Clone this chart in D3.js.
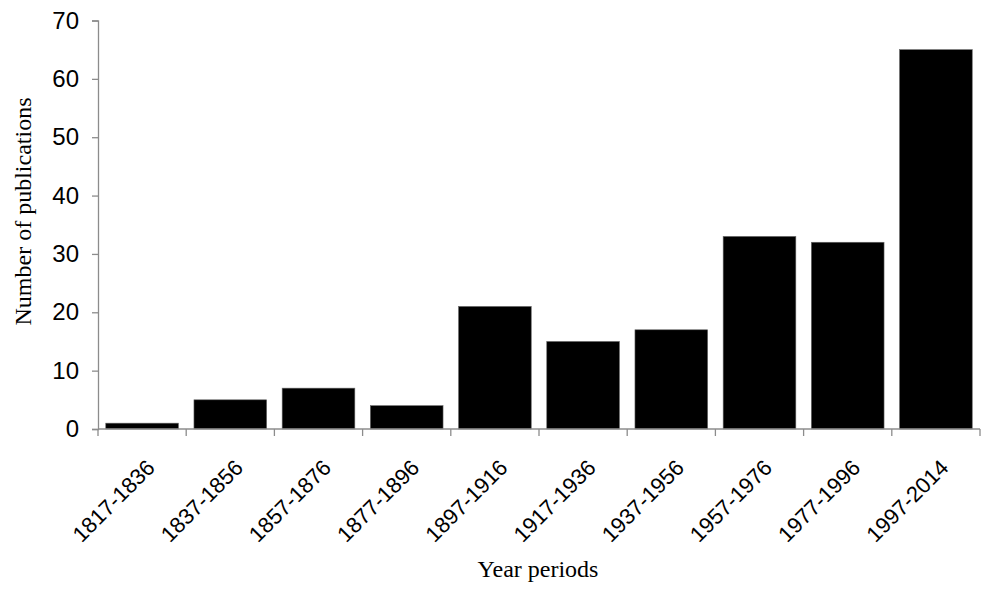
<!DOCTYPE html>
<html><head><meta charset="utf-8">
<script src="https://cdn.jsdelivr.net/npm/d3@7"></script>
<style>body{margin:0;background:#fff}</style>
</head><body>
<svg id="c" width="984" height="589"></svg>
<script>
const categories = ["1817-1836","1837-1856","1857-1876","1877-1896","1897-1916","1917-1936","1937-1956","1957-1976","1977-1996","1997-2014"];
const values = [1,5,7,4,21,15,17,33,32,65];
const yTicks = [0,10,20,30,40,50,60,70];

(function(){
const svg = d3.select("#c");
const mLeft = 98, mRight = 980, mTop = 20.5, mBottom = 429;
const x = d3.scaleBand().domain(categories).range([mLeft,mRight]).paddingInner(0.176).paddingOuter(0.088);
const y = d3.scaleLinear().domain([0,70]).range([mBottom,mTop]);
const axisColor = "#8c8c8c";

svg.selectAll("rect.bar").data(values).join("rect")
  .attr("x",(d,i)=>x(categories[i]))
  .attr("y",d=>y(d))
  .attr("width",x.bandwidth())
  .attr("height",d=>y(0)-y(d))
  .attr("fill","#000").attr("stroke","#666").attr("stroke-width",0.6);

const yg = svg.append("g").attr("transform",`translate(${mLeft},0)`)
  .call(d3.axisLeft(y).tickValues(yTicks).tickSize(6).tickPadding(13));
yg.select(".domain").attr("stroke",axisColor).attr("stroke-width",1.3);
yg.selectAll(".tick line").attr("stroke",axisColor).attr("stroke-width",1.3);
yg.selectAll("text").attr("font-family","Liberation Sans, Arial").attr("font-size",24).attr("fill","#000");

const bx = d3.scaleLinear().domain([0,categories.length]).range([mLeft,mRight]);
svg.append("line").attr("x1",mLeft).attr("x2",mRight).attr("y1",mBottom).attr("y2",mBottom)
  .attr("stroke",axisColor).attr("stroke-width",1.3);
svg.selectAll("line.xt").data(d3.range(categories.length+1)).join("line")
  .attr("x1",d=>bx(d)).attr("x2",d=>bx(d)).attr("y1",mBottom).attr("y2",mBottom+7)
  .attr("stroke",axisColor).attr("stroke-width",1.3);
svg.selectAll("text.xl").data(categories).join("text")
  .attr("transform",d=>`translate(${x(d)+x.bandwidth()/2+14},${mBottom+40}) rotate(-45)`)
  .attr("text-anchor","end")
  .attr("font-family","Liberation Sans, Arial").attr("font-size",22)
  .text(d=>d);

svg.append("text").attr("x",538).attr("y",577).attr("text-anchor","middle")
  .attr("font-family","Liberation Serif, Times New Roman").attr("font-size",24).text("Year periods");
svg.append("text").attr("transform",`translate(31,211.5) rotate(-90)`).attr("text-anchor","middle")
  .attr("font-family","Liberation Serif, Times New Roman").attr("font-size",24).text("Number of publications");
})();
</script>
</body></html>
